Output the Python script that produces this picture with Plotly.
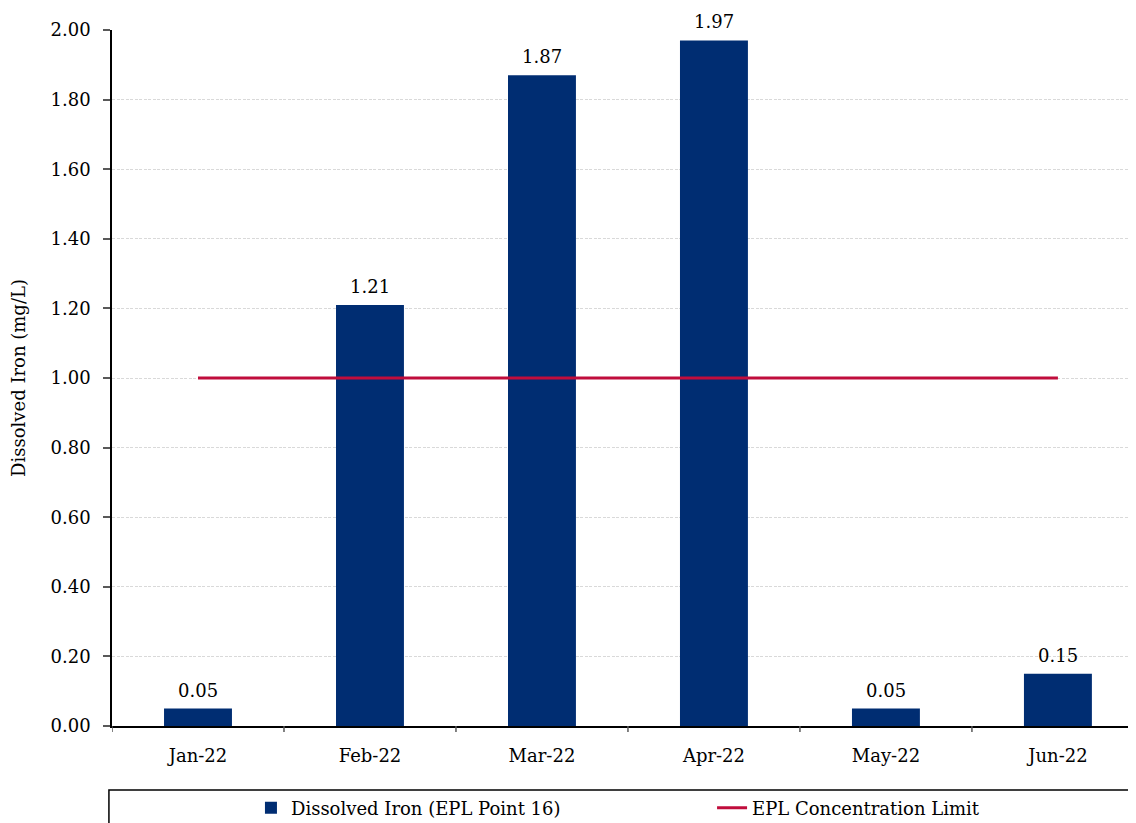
import plotly.graph_objects as go

months = ["Jan-22", "Feb-22", "Mar-22", "Apr-22", "May-22", "Jun-22"]
iron = [0.05, 1.21, 1.87, 1.97, 0.05, 0.15]
limit = [1.00, 1.00, 1.00, 1.00, 1.00, 1.00]
y_ticks = [0.0, 0.2, 0.4, 0.6, 0.8, 1.0, 1.2, 1.4, 1.6, 1.8, 2.0]

FONT = "Book Antiqua, Palatino Linotype, Palatino, DejaVu Serif, serif"
FS = 18
BAR = "#002D72"
LINE = "#C00D3C"

fig = go.Figure()
fig.add_trace(go.Bar(
    x=months, y=iron, name="Dissolved Iron (EPL Point 16)",
    marker=dict(color=BAR, line=dict(width=0)),
    width=0.395, legend="legend",
))
fig.add_trace(go.Scatter(
    x=months, y=limit, name="EPL Concentration Limit",
    mode="lines", line=dict(color=LINE, width=3), legend="legend2",
))

for m, v in zip(months, iron):
    fig.add_annotation(x=m, y=v, xref="x", yref="y", text=f"{v:.2f}",
                       showarrow=False, yanchor="bottom", yshift=6,
                       font=dict(family=FONT, size=FS, color="#000000"))

leg_common = dict(orientation="h", yanchor="middle", xanchor="left",
                  font=dict(family=FONT, size=FS, color="#000000"),
                  bgcolor="rgba(0,0,0,0)", borderwidth=0)

fig.update_layout(
    width=1128, height=815,
    margin=dict(l=104, r=0, t=22, b=97, autoexpand=False),
    paper_bgcolor="white", plot_bgcolor="white",
    font=dict(family=FONT, size=FS, color="#000000"),
    showlegend=True,
    legend=dict(x=0.1357, y=-0.118, **leg_common),
    legend2=dict(x=0.586, y=-0.118, **leg_common),
    xaxis=dict(
        range=[-0.5, 5.454], showline=True, linecolor="#000000", linewidth=1.5,
        ticks="", showgrid=False, tickfont=dict(family=FONT, size=FS),
        ticklabelstandoff=13, automargin=False, fixedrange=True,
    ),
    yaxis=dict(
        range=[0, 2.0], tickvals=y_ticks, ticktext=[f"{v:.2f}" for v in y_ticks],
        showline=True, linecolor="#000000", linewidth=1.5,
        ticks="outside", ticklen=7, tickcolor="#595959", tickwidth=2,
        showgrid=True, gridcolor="#d9d9d9", griddash="3px,1.5px", gridwidth=1,
        zeroline=False, automargin=False, ticklabelstandoff=9,
        title=dict(text="Dissolved Iron (mg/L)", font=dict(family=FONT, size=FS), standoff=20),
        tickfont=dict(family=FONT, size=FS),
    ),
)

# x-axis tick marks at category boundaries
for i in range(len(months)):
    fig.add_shape(type="line", xref="x", yref="paper",
                  x0=i - 0.5, x1=i - 0.5, y0=0, y1=-0.0086,
                  line=dict(color="#595959", width=1.5))

# legend frame
fig.add_shape(type="rect", xref="paper", yref="paper",
              x0=-0.003, x1=0.994, y0=-0.092, y1=-0.16,
              line=dict(color="#000000", width=1.5), fillcolor="rgba(0,0,0,0)")

fig.write_html("out.html")
